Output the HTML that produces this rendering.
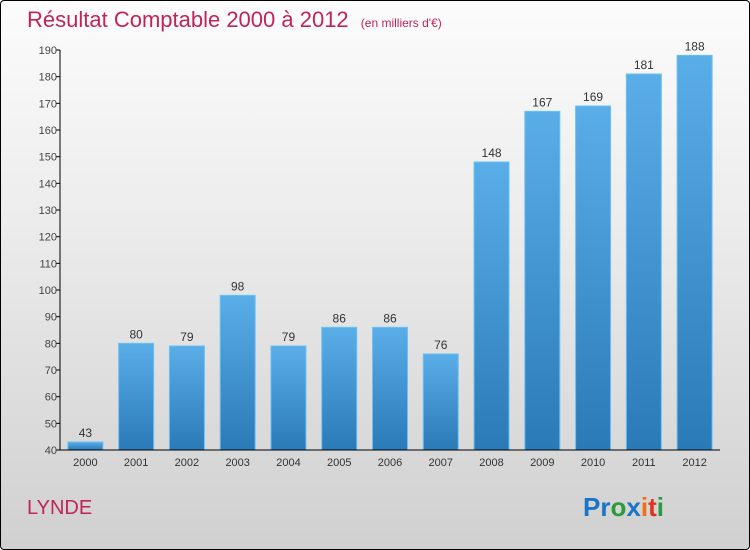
<!DOCTYPE html>
<html><head><meta charset="utf-8"><style>
body{margin:0;width:750px;height:550px;overflow:hidden;font-family:"Liberation Sans",sans-serif}
#wrap{position:absolute;left:0;top:0;width:748px;height:548px;border:1px solid #000;border-radius:4px;background:linear-gradient(#fcfcfc,#ececec 40%,#d0d0d0)}
</style></head><body>
<div id="wrap">
<svg width="750" height="550" style="position:absolute;left:-1px;top:-1px">
<defs><linearGradient id="bg" x1="0" y1="0" x2="0" y2="1"><stop offset="0" stop-color="#5aaee8"/><stop offset="1" stop-color="#2a7ab8"/></linearGradient></defs>
<text x="27" y="27" font-size="22" fill="#c0245a">Résultat Comptable 2000 à 2012 <tspan font-size="12" dx="6">(en milliers d'€)</tspan></text>
<g id="plot"></g>
<text x="27" y="514" font-size="20" fill="#c0245a">LYNDE</text>
<text x="583" y="516" font-size="26" font-weight="bold"><tspan fill="#1a74c8">Pr</tspan><tspan fill="#2a9a3a">o</tspan><tspan fill="#1a74c8">x</tspan><tspan fill="#f07010">i</tspan><tspan fill="#e03020">t</tspan><tspan fill="#2a9a3a">i</tspan></text>
</svg></div>
<script>
const years=["2000","2001","2002","2003","2004","2005","2006","2007","2008","2009","2010","2011","2012"];
const values=[43,80,79,98,79,86,86,76,148,167,169,181,188];
const ticks=[40,50,60,70,80,90,100,110,120,130,140,150,160,170,180,190];
const NS="http://www.w3.org/2000/svg";
const g=document.getElementById('plot');
const x0=60,x1=720,yB=450,yT=50,vMin=40,vMax=190;
const y=v=>yB-(v-vMin)/(vMax-vMin)*(yB-yT);
const band=(x1-x0)/years.length;
const xc=i=>x0+band*(i+0.5);
function el(t,a){const e=document.createElementNS(NS,t);for(const k in a)e.setAttribute(k,a[k]);g.appendChild(e);return e;}
ticks.forEach(t=>{
 const l=el('line',{x1:x0-4,x2:x0,y1:y(t),y2:y(t),stroke:'#000'});
 
 
 const tx=el('text',{x:x0-3,y:y(t)+4,'font-size':11,'text-anchor':'end',fill:'#444'});
 tx.textContent=t;
 
 
});
values.forEach((v,i)=>{
 const w=35;
 const r=el('rect',{x:xc(i)-w/2,y:y(v),width:w,height:yB-y(v),fill:'url(#bg)',stroke:'#6ec0f4','stroke-width':1});
 
 
 const lt=el('text',{x:xc(i),y:y(v)-5,'font-size':12,'text-anchor':'middle',fill:'#333'});
 lt.textContent=v;
 
 
 const xt=el('text',{x:xc(i),y:yB+16,'font-size':11,'text-anchor':'middle',fill:'#333'});
 xt.textContent=years[i];
 
 
});
const ax=el('line',{x1:x0,x2:x0,y1:yT,y2:yB,stroke:'#000'});


const bx=el('line',{x1:x0,x2:x1,y1:yB,y2:yB,stroke:'#000'});


</script>
</body></html>
